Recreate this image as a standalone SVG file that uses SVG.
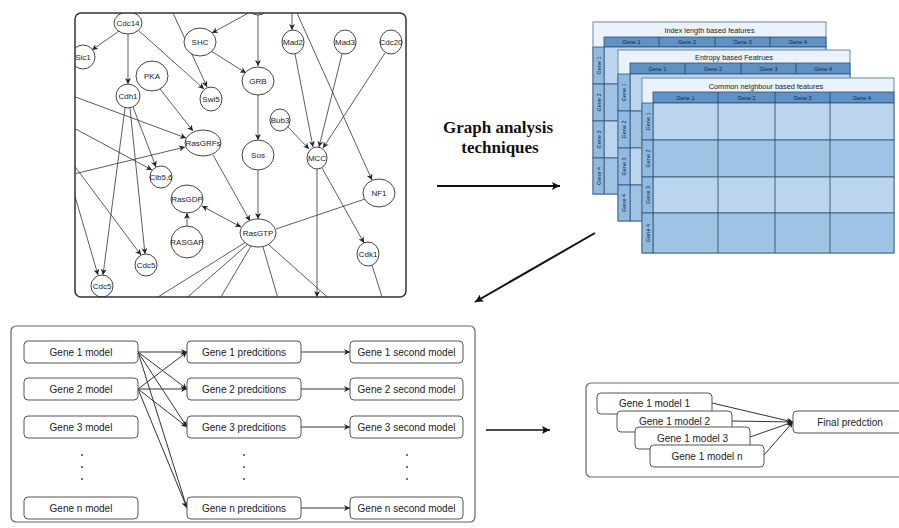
<svg xmlns="http://www.w3.org/2000/svg" width="899" height="528" viewBox="0 0 899 528">
<style>
.nd ellipse{fill:#fff;stroke:#444;stroke-width:1}
.nl{font-family:"Liberation Sans",Arial,sans-serif;font-size:8px;fill:#222;text-anchor:middle}
.ge line{stroke:#333;stroke-width:0.8;fill:none}
.bx{fill:#fff;stroke:#555;stroke-width:1}
.bt{font-family:"Liberation Sans",Arial,sans-serif;font-size:10px;fill:#222;text-anchor:middle}
.bc line{stroke:#333;stroke-width:1}
.big{stroke:#111;stroke-width:2}
.mt{font-family:"Liberation Sans",Arial,sans-serif;font-size:7.3px;fill:#1a1a1a;text-anchor:middle}
.mh{font-family:"Liberation Sans",Arial,sans-serif;font-size:5.5px;fill:#14263a;text-anchor:middle}
.tf{fill:#eaf3fb;stroke:#6f8aa6;stroke-width:1}
.hr{fill:#5e92c4;stroke:#34506e;stroke-width:0.8}
.rh{fill:#8fbbe2;stroke:#34506e;stroke-width:0.8}
.dl{fill:#bcd5ee;stroke:#34506e;stroke-width:0.8}
.dd{fill:#9ec3e5;stroke:#34506e;stroke-width:0.8}
.dot{fill:#333}
</style>
<defs>
<marker id="a" viewBox="0 0 10 10" refX="10" refY="5" markerWidth="6" markerHeight="6" orient="auto-start-reverse" markerUnits="userSpaceOnUse"><path d="M0,0 L10,5 L0,10 L3,5 z" fill="#222"/></marker>
<marker id="b" viewBox="0 0 10 10" refX="10" refY="5" markerWidth="8" markerHeight="8" orient="auto" markerUnits="userSpaceOnUse"><path d="M0,0 L10,5 L0,10 L2,5 z" fill="#111"/></marker>
<marker id="c" viewBox="0 0 10 10" refX="10" refY="5" markerWidth="9" markerHeight="9" orient="auto" markerUnits="userSpaceOnUse"><path d="M0,1 L10,5 L0,9 z" fill="#111"/></marker>
<clipPath id="gc"><rect x="75" y="13" width="331" height="284" rx="6"/></clipPath>
</defs>

<!-- ===== Network graph ===== -->
<g id="network">
<g clip-path="url(#gc)">
<g id="graph-edges" class="ge">
<line x1="119" y1="31" x2="92" y2="50" marker-end="url(#a)"/>
<line x1="128" y1="34" x2="128" y2="84" marker-end="url(#a)"/>
<line x1="138" y1="30" x2="204" y2="89" marker-end="url(#a)"/>
<line x1="173" y1="13" x2="207" y2="87" marker-end="url(#a)"/>
<line x1="252" y1="11" x2="212" y2="33" marker-end="url(#a)"/>
<line x1="211" y1="51" x2="246" y2="73" marker-end="url(#a)"/>
<line x1="258" y1="15" x2="258" y2="66" marker-end="url(#a)"/>
<line x1="292" y1="13" x2="292" y2="30" marker-end="url(#a)"/>
<line x1="297" y1="13" x2="372" y2="180" marker-end="url(#a)"/>
<line x1="295" y1="54" x2="313" y2="147" marker-end="url(#a)"/>
<line x1="342" y1="54" x2="319" y2="147" marker-end="url(#a)"/>
<line x1="385" y1="53" x2="323" y2="148" marker-end="url(#a)"/>
<line x1="288" y1="127" x2="309" y2="149" marker-end="url(#a)"/>
<line x1="258" y1="95" x2="258" y2="140" marker-end="url(#a)"/>
<line x1="258" y1="170" x2="258" y2="219" marker-end="url(#a)"/>
<line x1="213" y1="155" x2="250" y2="221" marker-end="url(#a)"/>
<line x1="365" y1="199" x2="276" y2="229"/>
<line x1="202" y1="206" x2="241" y2="227" marker-start="url(#a)" marker-end="url(#a)"/>
<line x1="187" y1="226" x2="187" y2="213" marker-end="url(#a)"/>
<line x1="317" y1="169" x2="317" y2="297" marker-end="url(#a)"/>
<line x1="322" y1="168" x2="364" y2="243" marker-end="url(#a)"/>
<line x1="372" y1="265" x2="383" y2="300"/>
<line x1="246" y1="242" x2="150" y2="302"/>
<line x1="248" y1="244" x2="182" y2="302"/>
<line x1="251" y1="246" x2="218" y2="302"/>
<line x1="263" y1="247" x2="279" y2="302"/>
<line x1="269" y1="245" x2="333" y2="302"/>
<line x1="160" y1="89" x2="193" y2="131" marker-end="url(#a)"/>
<line x1="125" y1="108" x2="103" y2="275" marker-end="url(#a)"/>
<line x1="130" y1="108" x2="145" y2="254" marker-end="url(#a)"/>
<line x1="133" y1="107" x2="156" y2="167" marker-end="url(#a)"/>
<line x1="70" y1="95" x2="186" y2="138" marker-end="url(#a)"/>
<line x1="70" y1="126" x2="152" y2="170" marker-end="url(#a)"/>
<line x1="70" y1="160" x2="141" y2="255" marker-end="url(#a)"/>
<line x1="70" y1="175" x2="185" y2="147" marker-end="url(#a)"/>
<line x1="72" y1="186" x2="98" y2="275" marker-end="url(#a)"/>
</g>
<g id="n-top" class="nd"><ellipse cx="258" cy="3" rx="12" ry="12"/></g>
<g id="n-cdc14" class="nd"><ellipse cx="128" cy="23" rx="14" ry="11"/><text class="nl" x="128" y="26">Cdc14</text></g>
<g id="n-sic1" class="nd"><ellipse cx="83" cy="57" rx="12" ry="12"/><text class="nl" x="83" y="60">Sic1</text></g>
<g id="n-shc" class="nd"><ellipse cx="200" cy="42" rx="16" ry="14"/><text class="nl" x="200" y="45">SHC</text></g>
<g id="n-pka" class="nd"><ellipse cx="152" cy="76" rx="16" ry="15"/><text class="nl" x="152" y="79">PKA</text></g>
<g id="n-cdh1" class="nd"><ellipse cx="128" cy="96" rx="12" ry="12"/><text class="nl" x="128" y="99">Cdh1</text></g>
<g id="n-swi5" class="nd"><ellipse cx="211" cy="99" rx="11" ry="12"/><text class="nl" x="211" y="102">Swi5</text></g>
<g id="n-rasgrfs" class="nd"><ellipse cx="203" cy="143" rx="18" ry="13"/><text class="nl" x="203" y="146">RasGRFs</text></g>
<g id="n-grb" class="nd"><ellipse cx="258" cy="81" rx="16" ry="14"/><text class="nl" x="258" y="84">GRB</text></g>
<g id="n-mad2" class="nd"><ellipse cx="293" cy="42" rx="11" ry="12"/><text class="nl" x="293" y="45">Mad2</text></g>
<g id="n-mad3" class="nd"><ellipse cx="345" cy="42" rx="11" ry="12"/><text class="nl" x="345" y="45">Mad3</text></g>
<g id="n-cdc20" class="nd"><ellipse cx="391" cy="42" rx="11" ry="12"/><text class="nl" x="391" y="45">Cdc20</text></g>
<g id="n-bub3" class="nd"><ellipse cx="280" cy="120" rx="10" ry="11"/><text class="nl" x="280" y="123">Bub3</text></g>
<g id="n-mcc" class="nd"><ellipse cx="317" cy="158" rx="10" ry="11"/><text class="nl" x="317" y="161">MCC</text></g>
<g id="n-sos" class="nd"><ellipse cx="258" cy="155" rx="16" ry="15"/><text class="nl" x="258" y="158">Sos</text></g>
<g id="n-nf1" class="nd"><ellipse cx="379" cy="193" rx="16" ry="14"/><text class="nl" x="379" y="196">NF1</text></g>
<g id="n-rasgtp" class="nd"><ellipse cx="258" cy="233" rx="18" ry="14"/><text class="nl" x="258" y="236">RasGTP</text></g>
<g id="n-cdk1" class="nd"><ellipse cx="368" cy="254" rx="11" ry="12"/><text class="nl" x="368" y="257">Cdk1</text></g>
<g id="n-clb56" class="nd"><ellipse cx="161" cy="177" rx="11" ry="11"/><text class="nl" x="161" y="180">Clb5,6</text></g>
<g id="n-rasgdp" class="nd"><ellipse cx="187" cy="199" rx="16" ry="14"/><text class="nl" x="187" y="202">RasGDP</text></g>
<g id="n-rasgap" class="nd"><ellipse cx="187" cy="242" rx="16" ry="16"/><text class="nl" x="187" y="245">RASGAP</text></g>
<g id="n-cdc5a" class="nd"><ellipse cx="146" cy="265" rx="11" ry="11"/><text class="nl" x="146" y="268">Cdc5</text></g>
<g id="n-cdc5b" class="nd"><ellipse cx="102" cy="286" rx="11" ry="11"/><text class="nl" x="102" y="289">Cdc5</text></g>
</g>
<rect x="75" y="13" width="331" height="284" rx="6" fill="none" stroke="#333" stroke-width="1.5"/>
</g>

<!-- ===== Label ===== -->
<g id="label-graph-analysis">
<text x="498" y="133" font-family="'Liberation Serif','Times New Roman',serif" font-weight="bold" font-size="17" fill="#111" text-anchor="middle">Graph analysis</text>
<text x="500" y="153" font-family="'Liberation Serif','Times New Roman',serif" font-weight="bold" font-size="17" fill="#111" text-anchor="middle">techniques</text>
</g>

<!-- ===== Matrices ===== -->
<g id="matrix-index">
<rect class="tf" x="593" y="22" width="233" height="172"/>
<text class="mt" x="709.5" y="32.5">Index length based features</text>
<rect class="hr" x="604" y="37" width="222" height="10"/>
<line x1="659" y1="37" x2="659" y2="47" stroke="#2a425c" stroke-width="0.8"/>
<line x1="715" y1="37" x2="715" y2="47" stroke="#2a425c" stroke-width="0.8"/>
<line x1="770" y1="37" x2="770" y2="47" stroke="#2a425c" stroke-width="0.8"/>
<text class="mh" x="631.5" y="44">Gene 1</text><text class="mh" x="687" y="44">Gene 2</text><text class="mh" x="742.5" y="44">Gene 3</text><text class="mh" x="798" y="44">Gene 4</text>
<rect class="dl" x="604" y="47" width="222" height="37"/>
<rect class="dd" x="604" y="84" width="222" height="37"/>
<rect class="dl" x="604" y="121" width="222" height="37"/>
<rect class="dd" x="604" y="158" width="222" height="36"/>
<rect class="rh" x="593" y="47" width="11" height="37"/><rect class="rh" x="593" y="84" width="11" height="37"/><rect class="rh" x="593" y="121" width="11" height="37"/><rect class="rh" x="593" y="158" width="11" height="36"/>
<text class="mh" transform="translate(600.5,65.5) rotate(-90)">Gene 1</text>
<text class="mh" transform="translate(600.5,102.5) rotate(-90)">Gene 2</text>
<text class="mh" transform="translate(600.5,139.5) rotate(-90)">Gene 3</text>
<text class="mh" transform="translate(600.5,176) rotate(-90)">Gene 4</text>
</g>

<g id="matrix-entropy">
<rect class="tf" x="618" y="50" width="232" height="171"/>
<text class="mt" x="734" y="60">Entropy based Featrues</text>
<rect class="hr" x="630" y="63" width="220" height="11"/>
<line x1="685" y1="63" x2="685" y2="74" stroke="#2a425c" stroke-width="0.8"/>
<line x1="741" y1="63" x2="741" y2="74" stroke="#2a425c" stroke-width="0.8"/>
<line x1="796" y1="63" x2="796" y2="74" stroke="#2a425c" stroke-width="0.8"/>
<text class="mh" x="657.5" y="70.5">Gene 1</text><text class="mh" x="713" y="70.5">Gene 2</text><text class="mh" x="768.5" y="70.5">Gene 3</text><text class="mh" x="823" y="70.5">Gene 4</text>
<rect class="dl" x="630" y="74" width="220" height="37"/>
<rect class="dd" x="630" y="111" width="220" height="37"/>
<rect class="dl" x="630" y="148" width="220" height="37"/>
<rect class="dd" x="630" y="185" width="220" height="36"/>
<rect class="rh" x="618" y="74" width="12" height="37"/><rect class="rh" x="618" y="111" width="12" height="37"/><rect class="rh" x="618" y="148" width="12" height="37"/><rect class="rh" x="618" y="185" width="12" height="36"/>
<text class="mh" transform="translate(626,92.5) rotate(-90)">Gene 1</text>
<text class="mh" transform="translate(626,129.5) rotate(-90)">Gene 2</text>
<text class="mh" transform="translate(626,166.5) rotate(-90)">Gene 3</text>
<text class="mh" transform="translate(626,203) rotate(-90)">Gene 4</text>
</g>

<g id="matrix-common">
<rect class="tf" x="642" y="78" width="252" height="175"/>
<text class="mt" x="766" y="88.5">Common neighbour based features</text>
<rect class="hr" x="653" y="92" width="241" height="11"/>
<text class="mh" x="685.5" y="99.5">Gene 1</text><text class="mh" x="746.5" y="99.5">Gene 2</text><text class="mh" x="802.5" y="99.5">Gene 3</text><text class="mh" x="862" y="99.5">Gene 4</text>
<rect class="dl" x="653" y="103" width="241" height="37"/>
<rect class="dd" x="653" y="140" width="241" height="37"/>
<rect class="dl" x="653" y="177" width="241" height="36"/>
<rect class="dd" x="653" y="213" width="241" height="40"/>
<line x1="718" y1="92" x2="718" y2="253" stroke="#2a425c" stroke-width="0.8"/>
<line x1="775" y1="92" x2="775" y2="253" stroke="#2a425c" stroke-width="0.8"/>
<line x1="830" y1="92" x2="830" y2="253" stroke="#2a425c" stroke-width="0.8"/>
<rect class="rh" x="642" y="103" width="11" height="37"/><rect class="rh" x="642" y="140" width="11" height="37"/><rect class="rh" x="642" y="177" width="11" height="36"/><rect class="rh" x="642" y="213" width="11" height="40"/>
<text class="mh" transform="translate(649.5,121.5) rotate(-90)">Gene 1</text>
<text class="mh" transform="translate(649.5,158.5) rotate(-90)">Gene 2</text>
<text class="mh" transform="translate(649.5,195) rotate(-90)">Gene 3</text>
<text class="mh" transform="translate(649.5,233) rotate(-90)">Gene 4</text>
</g>

<!-- ===== Bottom-left pipeline ===== -->
<g id="stage-container">
<rect x="11" y="326" width="464" height="196" rx="5" fill="#fff" stroke="#666" stroke-width="1.2"/>
</g>
<g id="pipeline-connectors" class="bc">
<line x1="138" y1="352" x2="187" y2="352" marker-end="url(#a)"/>
<line x1="138" y1="352" x2="187" y2="389" marker-end="url(#a)"/>
<line x1="138" y1="352" x2="187" y2="427" marker-end="url(#a)"/>
<line x1="138" y1="352" x2="187" y2="508" marker-end="url(#a)"/>
<line x1="138" y1="389" x2="187" y2="352" marker-end="url(#a)"/>
<line x1="138" y1="389" x2="187" y2="389" marker-end="url(#a)"/>
<line x1="138" y1="389" x2="187" y2="427" marker-end="url(#a)"/>
<line x1="138" y1="389" x2="187" y2="508" marker-end="url(#a)"/>
<line x1="301" y1="352" x2="350" y2="352" marker-end="url(#a)"/>
<line x1="301" y1="389" x2="350" y2="389" marker-end="url(#a)"/>
<line x1="301" y1="427" x2="350" y2="427" marker-end="url(#a)"/>
<line x1="301" y1="508" x2="350" y2="508" marker-end="url(#a)"/>
</g>
<g id="m1"><rect class="bx" x="24" y="341" width="114" height="22" rx="4"/><text class="bt" x="81" y="355.5">Gene 1 model</text></g>
<g id="m2"><rect class="bx" x="24" y="378" width="114" height="22" rx="4"/><text class="bt" x="81" y="392.5">Gene 2 model</text></g>
<g id="m3"><rect class="bx" x="24" y="416" width="114" height="22" rx="4"/><text class="bt" x="81" y="430.5">Gene 3 model</text></g>
<g id="mn"><rect class="bx" x="24" y="497" width="114" height="22" rx="4"/><text class="bt" x="81" y="511.5">Gene n model</text></g>
<g id="p1"><rect class="bx" x="187" y="341" width="114" height="22" rx="4"/><text class="bt" x="244" y="355.5">Gene 1 predcitions</text></g>
<g id="p2"><rect class="bx" x="187" y="378" width="114" height="22" rx="4"/><text class="bt" x="244" y="392.5">Gene 2 predcitions</text></g>
<g id="p3"><rect class="bx" x="187" y="416" width="114" height="22" rx="4"/><text class="bt" x="244" y="430.5">Gene 3 predcitions</text></g>
<g id="pn"><rect class="bx" x="187" y="497" width="114" height="22" rx="4"/><text class="bt" x="244" y="511.5">Gene n predcitions</text></g>
<g id="s1"><rect class="bx" x="350" y="341" width="113" height="22" rx="4"/><text class="bt" x="406.5" y="355.5">Gene 1 second model</text></g>
<g id="s2"><rect class="bx" x="350" y="378" width="113" height="22" rx="4"/><text class="bt" x="406.5" y="392.5">Gene 2 second model</text></g>
<g id="s3"><rect class="bx" x="350" y="416" width="113" height="22" rx="4"/><text class="bt" x="406.5" y="430.5">Gene 3 second model</text></g>
<g id="sn"><rect class="bx" x="350" y="497" width="113" height="22" rx="4"/><text class="bt" x="406.5" y="511.5">Gene n second model</text></g>
<g id="dots">
<circle class="dot" cx="82" cy="455" r="0.9"/><circle class="dot" cx="82" cy="467" r="0.9"/><circle class="dot" cx="82" cy="479" r="0.9"/>
<circle class="dot" cx="244" cy="455" r="0.9"/><circle class="dot" cx="244" cy="467" r="0.9"/><circle class="dot" cx="244" cy="479" r="0.9"/>
<circle class="dot" cx="407" cy="455" r="0.9"/><circle class="dot" cx="407" cy="467" r="0.9"/><circle class="dot" cx="407" cy="479" r="0.9"/>
</g>

<!-- ===== Bottom-right ensemble ===== -->
<g id="ensemble-container">
<rect x="586" y="383" width="330" height="94" rx="5" fill="#fff" stroke="#666" stroke-width="1.2"/>
</g>
<g id="ensemble-connectors" class="bc">
<line x1="712" y1="403" x2="793" y2="422" marker-end="url(#a)"/>
<line x1="732" y1="421" x2="793" y2="422" marker-end="url(#a)"/>
<line x1="750" y1="437" x2="793" y2="422" marker-end="url(#a)"/>
<line x1="764" y1="455" x2="793" y2="422" marker-end="url(#a)"/>
</g>
<g id="e1"><rect class="bx" x="597" y="393" width="115" height="21" rx="4"/><text class="bt" x="654.5" y="407">Gene 1 model 1</text></g>
<g id="e2"><rect class="bx" x="617" y="411" width="115" height="21" rx="4"/><text class="bt" x="674.5" y="425">Gene 1 model 2</text></g>
<g id="e3"><rect class="bx" x="635" y="427" width="115" height="22" rx="4"/><text class="bt" x="692.5" y="441.5">Gene 1 model 3</text></g>
<g id="en"><rect class="bx" x="650" y="445" width="114" height="22" rx="4"/><text class="bt" x="707" y="459.5">Gene 1 model n</text></g>
<g id="final"><rect class="bx" x="793" y="411" width="114" height="22" rx="4"/><text class="bt" x="850" y="425.5">Final predction</text></g>

<!-- ===== Big arrows ===== -->
<g id="main-arrows">
<line class="big" x1="437" y1="186" x2="560" y2="186" marker-end="url(#b)"/>
<line class="big" x1="595" y1="233" x2="475" y2="302" marker-end="url(#b)"/>
<line x1="486" y1="430" x2="550" y2="430" stroke="#111" stroke-width="1.5" marker-end="url(#b)"/>
</g>
</svg>
